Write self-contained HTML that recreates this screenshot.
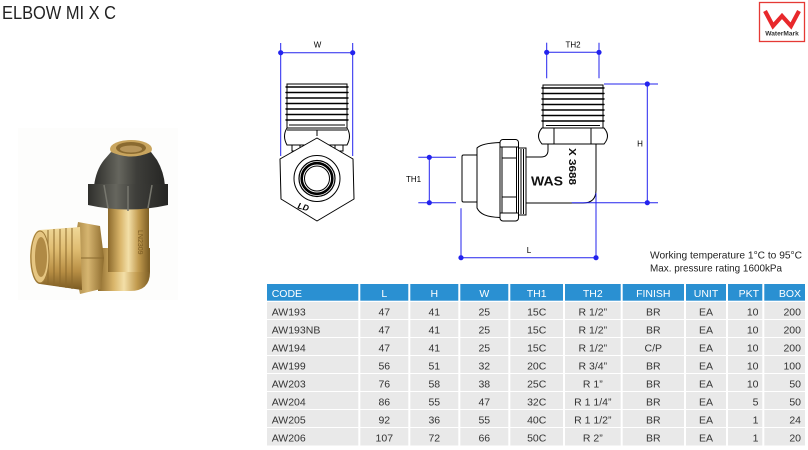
<!DOCTYPE html>
<html>
<head>
<meta charset="utf-8">
<style>
html,body{margin:0;padding:0;background:#fff;}
body{width:808px;height:450px;overflow:hidden;}
svg{display:block;}
text{font-family:"Liberation Sans",sans-serif;}
</style>
</head>
<body>
<svg width="808" height="450" viewBox="0 0 808 450" xmlns="http://www.w3.org/2000/svg">
<defs>
  <linearGradient id="brassV" x1="0" y1="0" x2="1" y2="0">
    <stop offset="0" stop-color="#8c6a2c"/>
    <stop offset="0.3" stop-color="#d9b56a"/>
    <stop offset="0.5" stop-color="#f3dfa8"/>
    <stop offset="0.75" stop-color="#c19a4e"/>
    <stop offset="1" stop-color="#7d5e25"/>
  </linearGradient>
  <linearGradient id="brassT" x1="0" y1="0" x2="0" y2="1">
    <stop offset="0" stop-color="#f0d898"/>
    <stop offset="0.35" stop-color="#e0bd72"/>
    <stop offset="0.7" stop-color="#b88f45"/>
    <stop offset="1" stop-color="#7a5a22"/>
  </linearGradient>
  <linearGradient id="nutG" x1="0" y1="0" x2="1" y2="0">
    <stop offset="0" stop-color="#2f2f2c"/>
    <stop offset="0.35" stop-color="#66665e"/>
    <stop offset="0.6" stop-color="#3e3e3a"/>
    <stop offset="1" stop-color="#262624"/>
  </linearGradient>
  <linearGradient id="hexG" x1="0" y1="0" x2="1" y2="0">
    <stop offset="0" stop-color="#9c7a38"/>
    <stop offset="0.5" stop-color="#d6b570"/>
    <stop offset="1" stop-color="#8e6c2e"/>
  </linearGradient>
</defs>

<!-- Title -->
<text x="2" y="19" font-size="18" fill="#222" textLength="114" lengthAdjust="spacingAndGlyphs">ELBOW MI X C</text>

<!-- WaterMark logo -->
<rect x="759.5" y="2.5" width="45" height="39" fill="#fff" stroke="#e53935" stroke-width="1.3"/>
<polyline points="765,11 773,26 782,16 791,26 799,11" fill="none" stroke="#e8282b" stroke-width="4.2" stroke-linejoin="miter"/>
<text x="782" y="35.5" font-size="6.6" font-weight="bold" fill="#333" text-anchor="middle">WaterMark</text>

<!-- Photo -->
<rect x="18" y="128" width="160" height="172" fill="#fdfdfc"/>
<g>
  <path d="M98,248 L150,248 L150,272 Q150,291 130,291 L98,291 Z" fill="url(#brassV)"/>
  <rect x="108" y="198" width="41" height="74" fill="url(#brassV)"/>
  <ellipse cx="131" cy="149" rx="21" ry="9" fill="#c9a55e"/>
  <ellipse cx="131" cy="148" rx="15" ry="6" fill="#8a6a30"/>
  <ellipse cx="131" cy="149" rx="11" ry="3.5" fill="#b8965a"/>
  <path d="M111,152 Q131,161 151,152 L157,160 Q164,172 165,186 L94,186 Q96,170 104,160 Z" fill="url(#nutG)"/>
  <path d="M88,184 L168,184 L168,205 Q128,214 88,205 Z" fill="url(#nutG)"/>
  <path d="M104,185 L108,208 M128,186 L128,211 M152,185 L148,208" stroke="#77776e" stroke-width="1.5" fill="none"/>
  <text x="138" y="230" font-size="7" fill="#7a5a22" transform="rotate(90 138 230)">LN2309</text>
  <polygon points="78,222 100,226 104,258 101,289 80,294 72,258" fill="url(#hexG)"/>
  <path d="M72,258 L104,258" stroke="#8a6a2e" stroke-width="1"/>
  <path d="M40,230 L80,227 L82,290 L40,284 A10,27 0 0 1 40,230 Z" fill="url(#brassT)"/>
  <g stroke="#8c6a2c" stroke-width="1.3" opacity="0.75">
    <line x1="48" y1="230" x2="48" y2="285"/>
    <line x1="54" y1="229" x2="54" y2="286"/>
    <line x1="60" y1="229" x2="60" y2="287"/>
    <line x1="66" y1="228" x2="66" y2="288"/>
    <line x1="72" y1="228" x2="72" y2="289"/>
  </g>
  <ellipse cx="40" cy="257" rx="9" ry="26" fill="#e6c682" stroke="#a07c3a" stroke-width="1"/>
  <ellipse cx="41" cy="257" rx="6" ry="20" fill="#b08a45"/>
</g>

<!-- Front view drawing -->
<g fill="#fff" stroke="#000" stroke-width="1">
  <rect x="292" y="142" width="8" height="9"/>
  <rect x="335" y="142" width="8" height="9"/>
  <rect x="287" y="84" width="60" height="44"/>
  <g stroke-width="1.4" stroke-linecap="round">
    <line x1="286" y1="87" x2="348" y2="87"/>
    <line x1="286" y1="92.5" x2="348" y2="92.5"/>
    <line x1="286" y1="98" x2="348" y2="98"/>
    <line x1="286" y1="103.5" x2="348" y2="103.5"/>
    <line x1="286" y1="109" x2="348" y2="109"/>
    <line x1="286" y1="114.5" x2="348" y2="114.5"/>
    <line x1="286" y1="120" x2="348" y2="120"/>
  </g>
  <line x1="289" y1="125" x2="345" y2="125"/>
  <path d="M287,128 L347,128 Q352,136 347,145 L287,145 Q282,136 287,128 Z"/>
  <line x1="287" y1="130" x2="347" y2="130"/>
  <line x1="317" y1="130" x2="317" y2="136"/>
  <polygon points="317,138 353,159 354,199 317,221 281,199 280,159" stroke-linejoin="round"/>
  <circle cx="317" cy="178.5" r="23"/>
  <circle cx="317" cy="178.5" r="18" stroke-width="1.2"/>
  <circle cx="317" cy="178.5" r="15.3" stroke-width="2.6"/>
  <circle cx="317" cy="178.5" r="12.5"/>
</g>
<text x="298" y="210" font-size="8.5" font-weight="bold" font-style="italic" fill="#000" transform="rotate(15 304 206)">LD</text>

<!-- Side view drawing -->
<g fill="#fff" stroke="#000" stroke-width="1">
  <rect x="543" y="85" width="60" height="43"/>
  <g stroke-width="1.4" stroke-linecap="round">
    <line x1="542" y1="88" x2="604" y2="88"/>
    <line x1="542" y1="93.5" x2="604" y2="93.5"/>
    <line x1="542" y1="99" x2="604" y2="99"/>
    <line x1="542" y1="104.5" x2="604" y2="104.5"/>
    <line x1="542" y1="110" x2="604" y2="110"/>
    <line x1="542" y1="115.5" x2="604" y2="115.5"/>
    <line x1="542" y1="121" x2="604" y2="121"/>
  </g>
  <line x1="546" y1="125.5" x2="600" y2="125.5"/>
  <path d="M548,144 L548,150 Q548,157 541,157 L525,157 L525,203 L583,203 Q596,203 596,190 L596,144 Z"/>
  <path d="M542,128 L604,128 Q611,136 604,144 L542,144 Q535,136 542,128 Z"/>
  <line x1="554" y1="128" x2="554" y2="144"/>
  <line x1="591" y1="128" x2="591" y2="144"/>
  <rect x="518" y="148" width="8" height="67"/>
  <line x1="521" y1="149" x2="521" y2="214"/>
  <line x1="523.5" y1="149" x2="523.5" y2="214"/>
  <rect x="462" y="155" width="16" height="47" rx="1.5"/>
  <path d="M477,148 C480,145 486,143 500,142.5 L500,217.5 C486,217 480,214 477,208 Z"/>
  <rect x="500" y="139.5" width="18.5" height="81.5" rx="3"/>
  <line x1="500" y1="147" x2="518.5" y2="147"/>
  <line x1="500" y1="213" x2="518.5" y2="213"/>
  <line x1="502" y1="158" x2="516.5" y2="158"/>
  <line x1="502" y1="197" x2="516.5" y2="197"/>
  <line x1="502" y1="147" x2="502" y2="213"/>
  <line x1="516.5" y1="147" x2="516.5" y2="213"/>
</g>
<text x="531" y="185.5" font-size="12.5" font-weight="bold" fill="#111" textLength="32" lengthAdjust="spacingAndGlyphs">WAS</text>
<text x="569" y="148" font-size="10" font-weight="bold" fill="#111" transform="rotate(90 569 148)" textLength="37" lengthAdjust="spacingAndGlyphs">X 3688</text>

<!-- Dimension lines -->
<g stroke="#2323ee" stroke-width="1" fill="none">
  <line x1="280.7" y1="43" x2="280.7" y2="156"/>
  <line x1="352.7" y1="43" x2="352.7" y2="156"/>
  <line x1="280.7" y1="52.7" x2="352.7" y2="52.7"/>
  <line x1="546.7" y1="42.7" x2="546.7" y2="78.3"/>
  <line x1="599" y1="42.7" x2="599" y2="78.3"/>
  <line x1="546.7" y1="52.3" x2="599" y2="52.3"/>
  <line x1="604" y1="84" x2="658" y2="84"/>
  <line x1="571.7" y1="202.7" x2="658" y2="202.7"/>
  <line x1="647.3" y1="84" x2="647.3" y2="202.7"/>
  <line x1="418.3" y1="157.3" x2="456" y2="157.3"/>
  <line x1="418.3" y1="202.7" x2="456" y2="202.7"/>
  <line x1="429.3" y1="157.3" x2="429.3" y2="202.7"/>
  <line x1="461" y1="208.3" x2="461" y2="260"/>
  <line x1="596" y1="193" x2="596" y2="260"/>
  <line x1="461" y1="257.7" x2="596" y2="257.7"/>
</g>
<g fill="#2323ee">
  <circle cx="280.7" cy="52.7" r="2.6"/><circle cx="352.7" cy="52.7" r="2.6"/>
  <circle cx="546.7" cy="52.3" r="2.6"/><circle cx="599" cy="52.3" r="2.6"/>
  <circle cx="647.3" cy="84" r="2.6"/><circle cx="647.3" cy="202.7" r="2.6"/>
  <circle cx="429.3" cy="157.3" r="2.6"/><circle cx="429.3" cy="202.7" r="2.6"/>
  <circle cx="461" cy="257.7" r="2.6"/><circle cx="596" cy="257.7" r="2.6"/>
</g>
<g font-size="8" fill="#000" text-anchor="middle">
  <text x="317.5" y="47.5">W</text>
  <text x="573" y="47.5">TH2</text>
  <text x="640" y="146.5">H</text>
  <text x="413.5" y="182">TH1</text>
  <text x="529" y="253">L</text>
</g>

<!-- Notes -->
<text x="650" y="258.7" font-size="10.5" fill="#222" textLength="152" lengthAdjust="spacingAndGlyphs">Working temperature 1°C to 95°C</text>
<text x="650" y="271.5" font-size="10.5" fill="#222" textLength="132" lengthAdjust="spacingAndGlyphs">Max. pressure rating 1600kPa</text>

<!-- Table -->
<rect x="267" y="284" width="538" height="16.7" fill="#2a90d2"/>
<g fill="#e9e9e9">
  <rect x="267" y="302" width="538" height="17"/>
  <rect x="267" y="320" width="538" height="17"/>
  <rect x="267" y="338" width="538" height="17"/>
  <rect x="267" y="356" width="538" height="17"/>
  <rect x="267" y="374" width="538" height="17"/>
  <rect x="267" y="392" width="538" height="17"/>
  <rect x="267" y="410" width="538" height="17"/>
  <rect x="267" y="428" width="538" height="17.5"/>
</g>
<g stroke="#fff" stroke-width="2">
  <line x1="359.3" y1="283" x2="359.3" y2="447"/>
  <line x1="409.3" y1="283" x2="409.3" y2="447"/>
  <line x1="459.3" y1="283" x2="459.3" y2="447"/>
  <line x1="509.3" y1="283" x2="509.3" y2="447"/>
  <line x1="564" y1="283" x2="564" y2="447"/>
  <line x1="621.7" y1="283" x2="621.7" y2="447"/>
  <line x1="685" y1="283" x2="685" y2="447"/>
  <line x1="727" y1="283" x2="727" y2="447"/>
  <line x1="763.3" y1="283" x2="763.3" y2="447"/>
</g>

<g font-size="10.5" fill="#fff">
  <text x="271.7" y="297">CODE</text>
  <text x="384.3" y="297" text-anchor="middle">L</text>
  <text x="434.3" y="297" text-anchor="middle">H</text>
  <text x="484.3" y="297" text-anchor="middle">W</text>
  <text x="536.7" y="297" text-anchor="middle">TH1</text>
  <text x="592.8" y="297" text-anchor="middle">TH2</text>
  <text x="653.3" y="297" text-anchor="middle">FINISH</text>
  <text x="706" y="297" text-anchor="middle">UNIT</text>
  <text x="759" y="297" text-anchor="end">PKT</text>
  <text x="801" y="297" text-anchor="end">BOX</text>
</g>

<g font-size="10.5" fill="#333">
  <g>
    <text x="271.7" y="315.3">AW193</text>
    <text x="271.7" y="333.3">AW193NB</text>
    <text x="271.7" y="351.3">AW194</text>
    <text x="271.7" y="369.3">AW199</text>
    <text x="271.7" y="387.3">AW203</text>
    <text x="271.7" y="405.3">AW204</text>
    <text x="271.7" y="423.3">AW205</text>
    <text x="271.7" y="441.3">AW206</text>
  </g>
  <g text-anchor="middle">
    <text x="384.3" y="315.3">47</text>
    <text x="384.3" y="333.3">47</text>
    <text x="384.3" y="351.3">47</text>
    <text x="384.3" y="369.3">56</text>
    <text x="384.3" y="387.3">76</text>
    <text x="384.3" y="405.3">86</text>
    <text x="384.3" y="423.3">92</text>
    <text x="384.3" y="441.3">107</text>

    <text x="434.3" y="315.3">41</text>
    <text x="434.3" y="333.3">41</text>
    <text x="434.3" y="351.3">41</text>
    <text x="434.3" y="369.3">51</text>
    <text x="434.3" y="387.3">58</text>
    <text x="434.3" y="405.3">55</text>
    <text x="434.3" y="423.3">36</text>
    <text x="434.3" y="441.3">72</text>

    <text x="484.3" y="315.3">25</text>
    <text x="484.3" y="333.3">25</text>
    <text x="484.3" y="351.3">25</text>
    <text x="484.3" y="369.3">32</text>
    <text x="484.3" y="387.3">38</text>
    <text x="484.3" y="405.3">47</text>
    <text x="484.3" y="423.3">55</text>
    <text x="484.3" y="441.3">66</text>

    <text x="536.7" y="315.3">15C</text>
    <text x="536.7" y="333.3">15C</text>
    <text x="536.7" y="351.3">15C</text>
    <text x="536.7" y="369.3">20C</text>
    <text x="536.7" y="387.3">25C</text>
    <text x="536.7" y="405.3">32C</text>
    <text x="536.7" y="423.3">40C</text>
    <text x="536.7" y="441.3">50C</text>

    <text x="592.8" y="315.3">R 1/2”</text>
    <text x="592.8" y="333.3">R 1/2”</text>
    <text x="592.8" y="351.3">R 1/2”</text>
    <text x="592.8" y="369.3">R 3/4”</text>
    <text x="592.8" y="387.3">R 1”</text>
    <text x="592.8" y="405.3">R 1 1/4”</text>
    <text x="592.8" y="423.3">R 1 1/2”</text>
    <text x="592.8" y="441.3">R 2”</text>

    <text x="653.3" y="315.3">BR</text>
    <text x="653.3" y="333.3">BR</text>
    <text x="653.3" y="351.3">C/P</text>
    <text x="653.3" y="369.3">BR</text>
    <text x="653.3" y="387.3">BR</text>
    <text x="653.3" y="405.3">BR</text>
    <text x="653.3" y="423.3">BR</text>
    <text x="653.3" y="441.3">BR</text>

    <text x="706" y="315.3">EA</text>
    <text x="706" y="333.3">EA</text>
    <text x="706" y="351.3">EA</text>
    <text x="706" y="369.3">EA</text>
    <text x="706" y="387.3">EA</text>
    <text x="706" y="405.3">EA</text>
    <text x="706" y="423.3">EA</text>
    <text x="706" y="441.3">EA</text>
  </g>
  <g text-anchor="end">
    <text x="758.5" y="315.3">10</text>
    <text x="758.5" y="333.3">10</text>
    <text x="758.5" y="351.3">10</text>
    <text x="758.5" y="369.3">10</text>
    <text x="758.5" y="387.3">10</text>
    <text x="758.5" y="405.3">5</text>
    <text x="758.5" y="423.3">1</text>
    <text x="758.5" y="441.3">1</text>

    <text x="801" y="315.3">200</text>
    <text x="801" y="333.3">200</text>
    <text x="801" y="351.3">200</text>
    <text x="801" y="369.3">100</text>
    <text x="801" y="387.3">50</text>
    <text x="801" y="405.3">50</text>
    <text x="801" y="423.3">24</text>
    <text x="801" y="441.3">20</text>
  </g>
</g>
</svg>
</body>
</html>
